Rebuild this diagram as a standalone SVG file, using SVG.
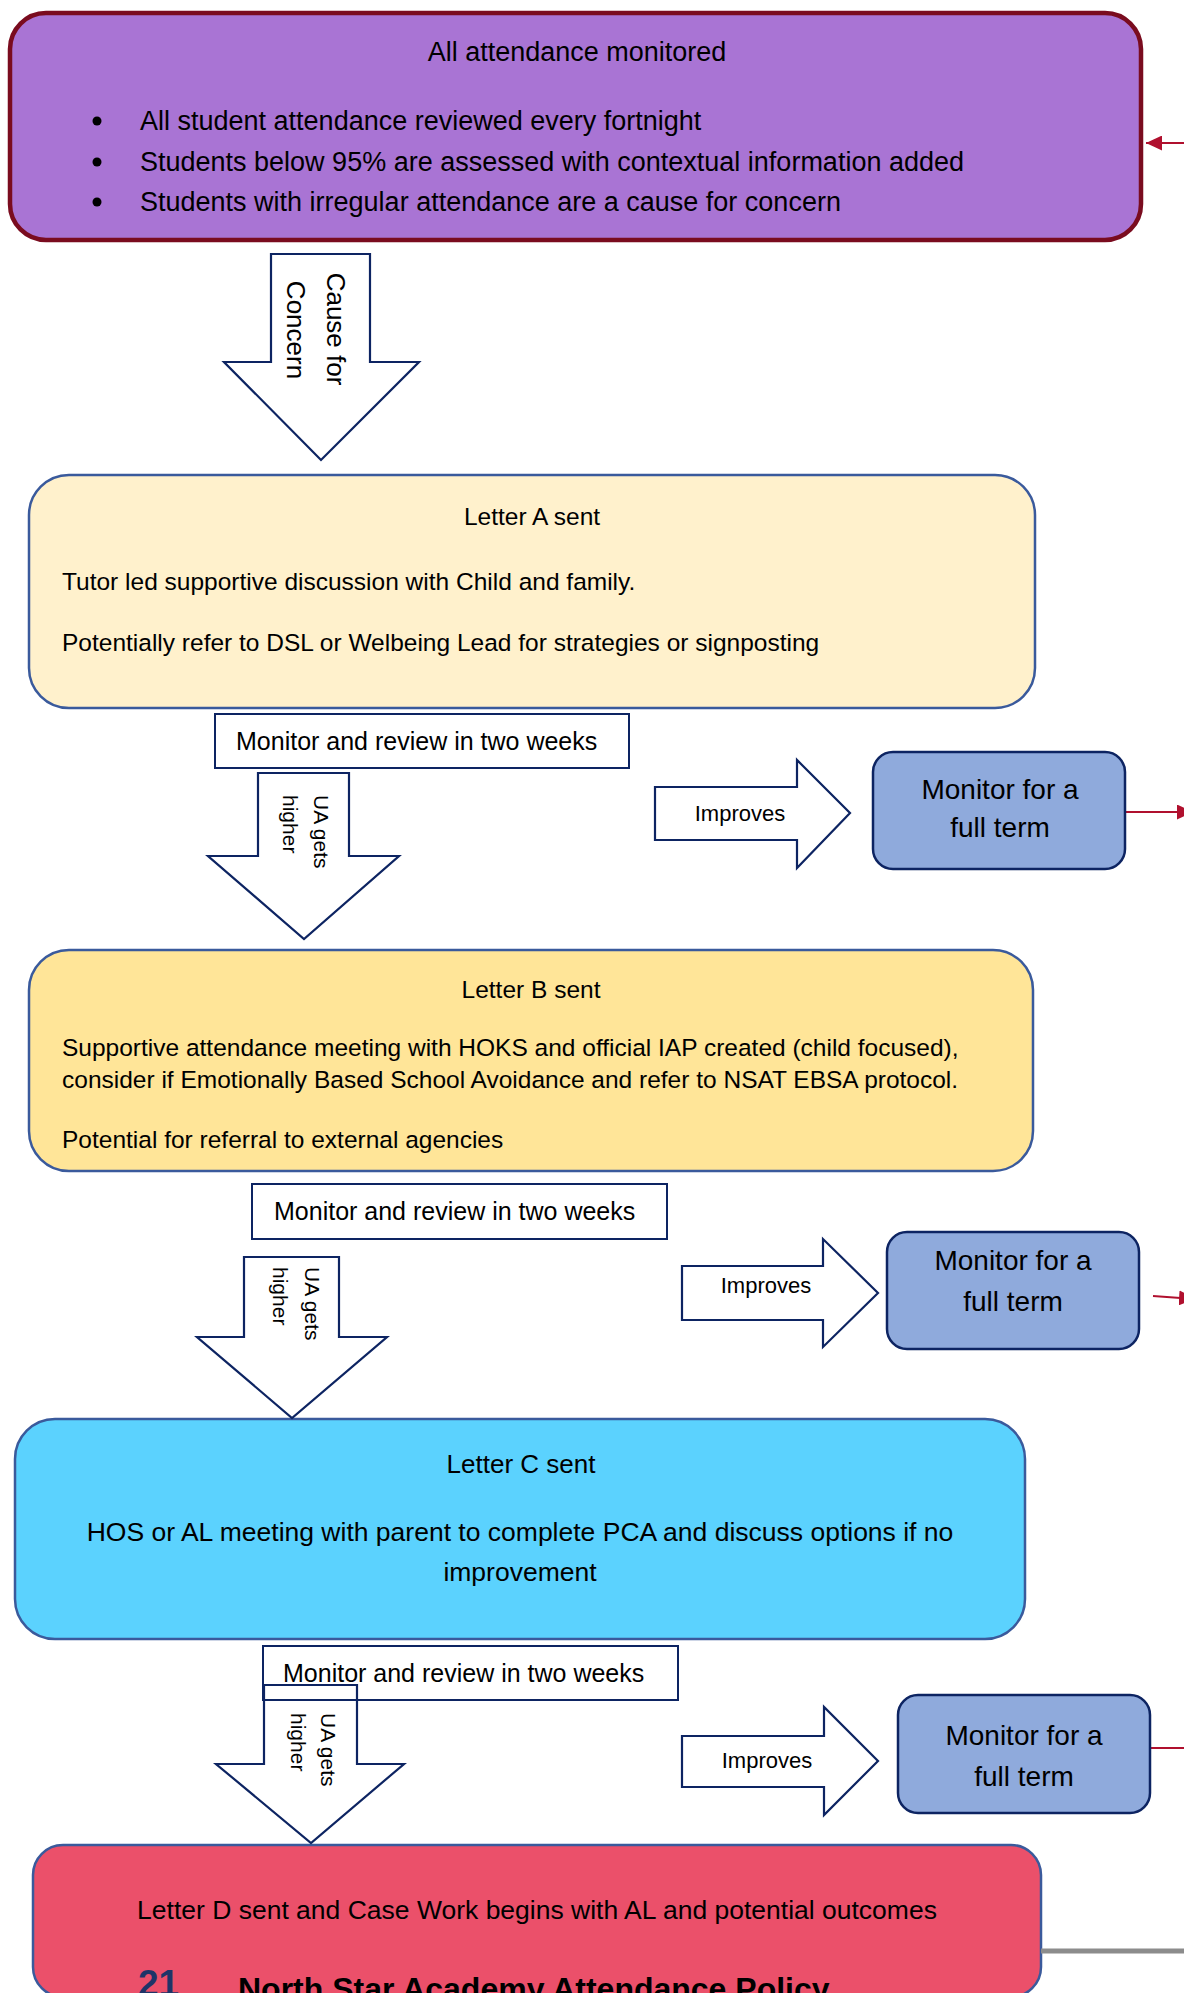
<svg xmlns="http://www.w3.org/2000/svg" width="1184" height="1993" viewBox="0 0 1184 1993">
<defs>
<marker id="redHead" markerUnits="userSpaceOnUse" markerWidth="16" markerHeight="15" refX="16" refY="7.5" orient="auto">
<path d="M0,0 L16,7.5 L0,15 z" fill="#B0102E"/>
</marker>
<style>
text{font-family:"Liberation Sans",Arial,sans-serif;fill:#000}
.letter{stroke:#3A5A9C;stroke-width:2.5}
.blk{fill:#fff;stroke:#0D2462;stroke-width:2.2;stroke-linejoin:miter}
.mon{fill:#fff;stroke:#0D2462;stroke-width:2}
.full{fill:#8FAADC;stroke:#0D2462;stroke-width:2.5}
.red{stroke:#B0102E;stroke-width:2;fill:none}
.c{text-anchor:middle}
</style>
</defs>
<rect width="1184" height="1993" fill="#fff"/>

<g id="node-monitored">
<rect x="10" y="13" width="1131" height="227" rx="36" fill="#A974D4" stroke="#7A0C1F" stroke-width="4.5"/>
<text x="577" y="61" class="c" font-size="27">All attendance monitored</text>
<circle cx="97" cy="121" r="4.5" fill="#000"/>
<circle cx="97" cy="162" r="4.5" fill="#000"/>
<circle cx="97" cy="202" r="4.5" fill="#000"/>
<text x="140" y="130" font-size="27">All student attendance reviewed every fortnight</text>
<text x="140" y="171" font-size="27">Students below 95% are assessed with contextual information added</text>
<text x="140" y="211" font-size="27">Students with irregular attendance are a cause for concern</text>
</g>

<g id="node-letterA">
<rect x="29" y="475" width="1006" height="233" rx="40" fill="#FFF1CC" class="letter"/>
<text x="532" y="525" class="c" font-size="24.5">Letter A sent</text>
<text x="62" y="590" font-size="24.5">Tutor led supportive discussion with Child and family.</text>
<text x="62" y="651" font-size="24.5">Potentially refer to DSL or Welbeing Lead for strategies or signposting</text>
</g>

<g id="node-letterB">
<rect x="29" y="950" width="1004" height="221" rx="40" fill="#FFE598" class="letter"/>
<text x="531" y="998" class="c" font-size="24.5">Letter B sent</text>
<text x="62" y="1056" font-size="24.5">Supportive attendance meeting with HOKS and official IAP created (child focused),</text>
<text x="62" y="1088" font-size="24.5">consider if Emotionally Based School Avoidance and refer to NSAT EBSA protocol.</text>
<text x="62" y="1148" font-size="24.5">Potential for referral to external agencies</text>
</g>

<g id="node-letterC">
<rect x="15" y="1419" width="1010" height="220" rx="40" fill="#5BD2FE" class="letter"/>
<text x="521" y="1473" class="c" font-size="26">Letter C sent</text>
<text x="520" y="1541" class="c" font-size="26.5">HOS or AL meeting with parent to complete PCA and discuss options if no</text>
<text x="520" y="1581" class="c" font-size="26.5">improvement</text>
</g>

<g id="node-letterD">
<rect x="33" y="1845" width="1008" height="152" rx="30" fill="#EB506A" class="letter"/>
<text x="537" y="1919" class="c" font-size="26.5">Letter D sent and Case Work begins with AL and potential outcomes</text>
<text x="138" y="1996" font-size="37" font-weight="bold" style="fill:#1F3468">21</text>
<text x="238" y="2000" font-size="32" font-weight="bold">North Star Academy Attendance Policy</text>
</g>

<g id="connectors">
<path class="blk" d="M271,254 L370,254 L370,362 L419,362 L321,460 L224,362 L271,362 Z" stroke-width="4.5"/>
<text transform="translate(327,329) rotate(90)" class="c" font-size="26">Cause for</text>
<text transform="translate(287,330) rotate(90)" class="c" font-size="26">Concern</text>

<path class="blk" d="M258,773 L349,773 L349,856 L399,856 L304,939 L208,856 L258,856 Z"/>
<text transform="translate(314,795) rotate(90)" font-size="21">UA gets</text>
<text transform="translate(283,795) rotate(90)" font-size="21">higher</text>

<path class="blk" d="M655,787 L797,787 L797,760 L850,813 L797,868 L797,840 L655,840 Z"/>
<text x="740" y="821" class="c" font-size="22">Improves</text>

<path class="blk" d="M244,1257 L339,1257 L339,1337 L387,1337 L292,1418 L197,1337 L244,1337 Z"/>
<text transform="translate(305,1267) rotate(90)" font-size="21">UA gets</text>
<text transform="translate(273,1267) rotate(90)" font-size="21">higher</text>

<path class="blk" d="M682,1266 L823,1266 L823,1239 L878,1293 L823,1347 L823,1320 L682,1320 Z"/>
<text x="766" y="1293" class="c" font-size="22">Improves</text>

<path class="blk" d="M264,1685 L357,1685 L357,1764 L404,1764 L311,1843 L216,1764 L264,1764 Z"/>
<text transform="translate(321,1713) rotate(90)" font-size="21">UA gets</text>
<text transform="translate(291,1713) rotate(90)" font-size="21">higher</text>

<path class="blk" d="M682,1736 L824,1736 L824,1707 L878,1761 L824,1815 L824,1787 L682,1787 Z"/>
<text x="767" y="1768" class="c" font-size="22">Improves</text>

<line class="red" x1="1190" y1="143" x2="1146" y2="143" marker-end="url(#redHead)"/>
<line class="red" x1="1125" y1="812" x2="1193" y2="812" marker-end="url(#redHead)"/>
<line class="red" x1="1153" y1="1296" x2="1195" y2="1299" marker-end="url(#redHead)"/>
<line class="red" x1="1150" y1="1748" x2="1202" y2="1748" marker-end="url(#redHead)"/>
<line x1="1041" y1="1951" x2="1184" y2="1951" stroke="#8C8C8C" stroke-width="5"/>
</g>

<g id="node-review1">
<rect class="mon" x="215" y="714" width="414" height="54"/>
<text x="236" y="750" font-size="25">Monitor and review in two weeks</text>
</g>
<g id="node-review2">
<rect class="mon" x="252" y="1184" width="415" height="55"/>
<text x="274" y="1220" font-size="25">Monitor and review in two weeks</text>
</g>
<g id="node-review3">
<rect class="mon" x="263" y="1646" width="415" height="54" style="fill:none"/>
<text x="283" y="1682" font-size="25">Monitor and review in two weeks</text>
</g>

<g id="node-full1">
<rect class="full" x="873" y="752" width="252" height="117" rx="20"/>
<text x="1000" y="799" class="c" font-size="28">Monitor for a</text>
<text x="1000" y="837" class="c" font-size="28">full term</text>
</g>
<g id="node-full2">
<rect class="full" x="887" y="1232" width="252" height="117" rx="20"/>
<text x="1013" y="1270" class="c" font-size="28">Monitor for a</text>
<text x="1013" y="1311" class="c" font-size="28">full term</text>
</g>
<g id="node-full3">
<rect class="full" x="898" y="1695" width="252" height="118" rx="20"/>
<text x="1024" y="1745" class="c" font-size="28">Monitor for a</text>
<text x="1024" y="1786" class="c" font-size="28">full term</text>
</g>
</svg>
